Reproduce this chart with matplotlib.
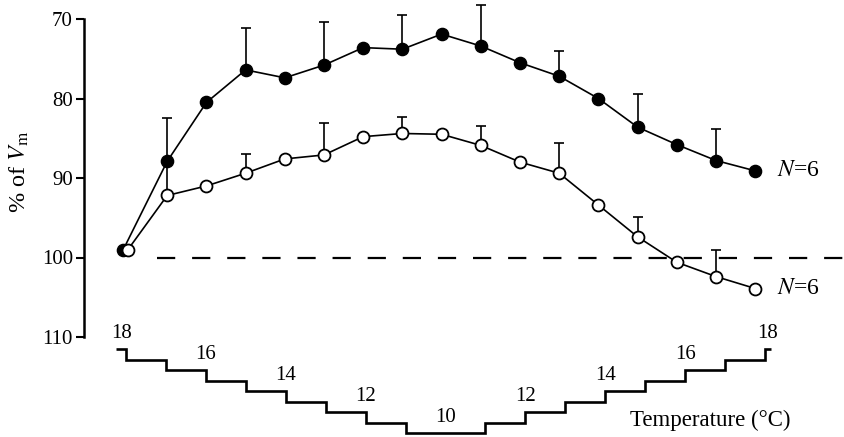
import numpy as np
import matplotlib
matplotlib.use('Agg')
import matplotlib.pyplot as plt

plt.rcParams['font.family'] = ['Liberation Serif', 'DejaVu Serif']
plt.rcParams['mathtext.fontset'] = 'stix'

# % of Vm at each step of the temperature run (filled / open circles)
filled = [99.0, 87.9, 80.5, 76.4, 77.4, 75.8, 73.6, 73.8, 71.9, 73.4,
          75.5, 77.2, 80.0, 83.6, 85.8, 87.8, 89.1]
opened = [99.0, 92.2, 91.0, 89.4, 87.6, 87.1, 84.8, 84.4, 84.5, 85.9,
          88.0, 89.4, 93.4, 97.4, 100.6, 102.4, 103.9]
# error bars only on every second point
err_idx = [1, 3, 5, 7, 9, 11, 13, 15]
filled_err = [5.4, 5.3, 5.4, 4.3, 5.1, 3.2, 4.2, 4.0]
open_err = [4.2, 2.4, 4.0, 2.1, 2.4, 3.8, 2.5, 3.3]

# temperature (°C) steps, 18 -> 10 -> 18
temps = [18, 17, 16, 15, 14, 13, 12, 11, 10, 10, 11, 12, 13, 14, 15, 16, 17, 18]
yticks = [70, 80, 90, 100, 110]

fig = plt.figure(figsize=(8.45, 4.37), dpi=100)
W, H = 845.0, 437.0
ax = fig.add_axes([84 / W, 1 - 337 / H, 761 / W, 318 / H])

x = np.arange(len(filled))
xlim = ((84 - 128) / 39.2, (845 - 128) / 39.2)

# error bars (upwards = smaller values, axis is inverted)
ex = x[err_idx]
for vals, errs in ((filled, filled_err), (opened, open_err)):
    eb = ax.errorbar(ex, np.array(vals)[err_idx], yerr=[errs, np.zeros(len(ex))],
                     fmt='none', ecolor='k', elinewidth=1.2, capsize=3.8,
                     capthick=1.2, zorder=2)
    for art in eb.get_children():
        art.set_clip_on(False)

# first point of the filled set sits a touch left of the open one
xf = x - np.where(x == 0, 0.12, 0.0)
ax.plot(xf, filled, '-o', color='k', mfc='k', mec='k', ms=8.8, lw=1.2, zorder=3)
ax.plot(x, opened, '-o', color='k', mfc='white', mec='k', mew=1.3, ms=8.6, lw=1.2, zorder=4)

ax.axhline(100, xmin=(157 - 84) / 761, xmax=1, color='k', lw=1.6,
           ls=(0, (8.2, 7.6)), zorder=1)

for vals in (filled, opened):
    ax.text(x[-1] + 0.56, vals[-1], '$N$=6', ha='left', va='center', fontsize=17)

ax.set_xlim(xlim)
ax.set_ylim(110, 70)
ax.set_yticks(yticks)
ax.set_xticks([])
for s in ['top', 'right', 'bottom']:
    ax.spines[s].set_visible(False)
ax.spines['left'].set_linewidth(1.8)
ax.tick_params(axis='y', direction='out', length=6, width=1.5, pad=2, labelsize=15)
ax.patch.set_alpha(0)

fig.text(19 / W, 1 - 172 / H, r'% of $V_{\rm m}$', rotation=90, ha='center', va='center',
         fontsize=17.5)

# temperature staircase underneath, same x scale
ax2 = fig.add_axes([84 / W, 0, 761 / W, 97 / H])
ax2.set_xlim(xlim)
ax2.set_ylim(10 - 4 / 10.5, 18 + 9 / 10.5)
shift = np.linspace(-0.05, 0.25, len(x))
edges = np.concatenate([[shift[0] - 0.25], x + shift, [x[-1] + shift[-1] + 0.15]])
ax2.stairs(temps, edges, baseline=None, color='k', lw=1.9)

for i, t in enumerate(temps):
    if t % 2:
        continue
    if i == 0 or i == len(temps) - 1:
        lx = (edges[i] + edges[i + 1]) / 2
    elif t == 10:
        if temps[i - 1] == 10:
            continue
        lx = (edges[i] + edges[i + 2]) / 2
    elif i < len(temps) / 2:
        lx = edges[i + 1]
    else:
        lx = edges[i]
    ax2.text(lx, t + 0.6, str(t), ha='center', va='bottom', fontsize=15)
ax2.axis('off')

fig.text(710 / W, 1 - 420 / H, 'Temperature (°C)', ha='center', va='center', fontsize=16.5)

fig.savefig('out.png', dpi=100)
